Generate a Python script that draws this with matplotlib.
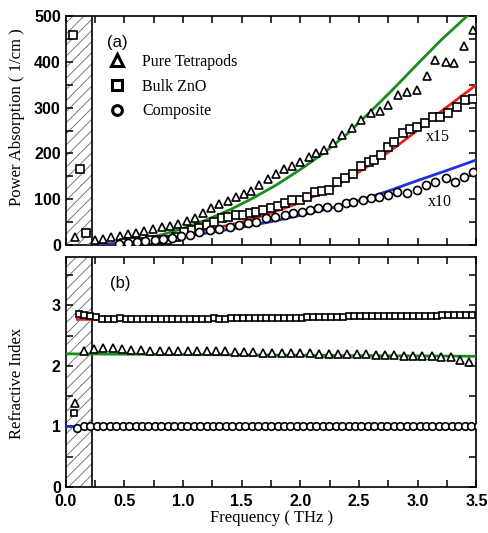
import numpy as np
import matplotlib
matplotlib.use("Agg")
import matplotlib.pyplot as plt
from matplotlib.lines import Line2D
from matplotlib.ticker import MultipleLocator

# ---------------- data: panel (a) power absorption ----------------
tet_f = [0.08, 0.25, 0.32, 0.39, 0.46, 0.53, 0.60, 0.67, 0.74, 0.82, 0.89, 0.96, 1.03,
         1.10, 1.17, 1.24, 1.31, 1.38, 1.45, 1.52, 1.58, 1.65, 1.72, 1.79, 1.86, 1.93,
         2.00, 2.07, 2.13, 2.20, 2.28, 2.35, 2.44, 2.52, 2.60, 2.68, 2.75, 2.83, 2.91,
         2.99, 3.08, 3.15, 3.24, 3.31, 3.39, 3.47]
tet_a = [17, 12, 14, 17, 20, 23, 27, 31, 34, 39, 41, 46, 52,
         60, 70, 80, 89, 97, 105, 112, 118, 130, 144, 155, 165, 172,
         182, 193, 200, 208, 222, 240, 255, 274, 289, 293, 306, 327, 335,
         338, 369, 404, 400, 397, 434, 469]

bulk_f = [0.06, 0.12, 0.17, 0.50, 0.56, 0.64, 0.72, 0.79, 0.86, 0.94, 1.01, 1.08, 1.14,
          1.20, 1.26, 1.33, 1.38, 1.45, 1.51, 1.57, 1.62, 1.68, 1.75, 1.81, 1.87, 1.93,
          2.00, 2.06, 2.12, 2.18, 2.24, 2.31, 2.38, 2.45, 2.52, 2.58, 2.63, 2.69, 2.75,
          2.80, 2.87, 2.93, 2.99, 3.06, 3.13, 3.19, 3.26, 3.33, 3.40, 3.47]
bulk_a = [458, 165, 26, 5, 7, 7, 11, 11, 12, 18, 29, 33, 38,
          44, 51, 58, 62, 65, 65, 69, 73, 76, 80, 85, 91, 98,
          98, 105, 116, 118, 120, 138, 146, 155, 172, 182, 186, 197, 215,
          226, 244, 253, 258, 266, 280, 280, 288, 302, 317, 318]

comp_f = [0.45, 0.53, 0.61, 0.68, 0.76, 0.83, 0.91, 0.98, 1.06, 1.14, 1.23, 1.31, 1.40,
          1.48, 1.55, 1.62, 1.71, 1.78, 1.87, 1.94, 2.01, 2.08, 2.15, 2.23, 2.32, 2.39,
          2.45, 2.53, 2.60, 2.67, 2.75, 2.82, 2.91, 2.99, 3.07, 3.15, 3.24, 3.32, 3.39, 3.47]
comp_a = [3, 5, 7, 9, 11, 14, 16, 19, 22, 29, 33, 36, 40,
          44, 47, 51, 58, 62, 65, 69, 73, 76, 80, 84, 84, 91,
          95, 98, 102, 105, 109, 116, 114, 120, 131, 138, 146, 138, 149, 160]

# fitted curves (a)
fit_tet_f = [0.20, 0.40, 0.60, 0.80, 1.00, 1.20, 1.40, 1.60, 1.80, 2.00, 2.20, 2.40, 2.60, 2.80, 3.00, 3.20, 3.42]
fit_tet_a = [0, 3, 10, 21, 36, 55, 77, 103, 132, 165, 201, 243, 292, 343, 396, 448, 500]
fit_bulk_f = [0.35, 0.50, 0.75, 1.00, 1.25, 1.50, 1.75, 2.00, 2.20, 2.40, 2.60, 2.80, 3.00, 3.20, 3.50]
fit_bulk_a = [2, 5, 12, 22, 35, 50, 70, 93, 116, 144, 176, 212, 251, 292, 350]
fit_comp_f = [0.30, 0.50, 0.75, 1.00, 1.25, 1.50, 1.75, 2.00, 2.25, 2.50, 2.75, 3.00, 3.25, 3.50]
fit_comp_a = [0, 4, 10, 18, 28, 39, 51, 65, 80, 97, 118, 141, 163, 186]

# ---------------- data: panel (b) refractive index ----------------
tet_n_extra_f = [0.08]
tet_n_extra = [1.38]
bulk_n_extra_f = [0.07]
bulk_n_extra = [1.22]

tet_n_start, tet_n_step = 0.16, 0.08
tet_n = [2.24, 2.28, 2.30, 2.29, 2.28, 2.27, 2.26, 2.25, 2.25, 2.25, 2.25, 2.25, 2.24, 2.24,
         2.24, 2.24, 2.23, 2.23, 2.23, 2.22, 2.22, 2.21, 2.21, 2.21, 2.21, 2.20, 2.20, 2.20,
         2.19, 2.19, 2.19, 2.18, 2.18, 2.18, 2.17, 2.17, 2.16, 2.16, 2.15, 2.14, 2.10, 2.07]

bulk_n_start, bulk_n_step = 0.11, 0.05
bulk_n = [2.86, 2.84, 2.83, 2.81, 2.78, 2.77, 2.77, 2.79, 2.78, 2.78, 2.78, 2.78, 2.78, 2.78,
          2.78, 2.78, 2.78, 2.78, 2.78, 2.78, 2.78, 2.78, 2.78, 2.79, 2.78, 2.78, 2.79, 2.79,
          2.79, 2.79, 2.79, 2.79, 2.80, 2.80, 2.80, 2.80, 2.80, 2.80, 2.80, 2.81, 2.81, 2.81,
          2.81, 2.81, 2.81, 2.81, 2.82, 2.82, 2.82, 2.82, 2.82, 2.82, 2.82, 2.83, 2.83, 2.83,
          2.83, 2.83, 2.83, 2.83, 2.83, 2.83, 2.84, 2.84, 2.84, 2.84, 2.84, 2.84]

comp_n_start, comp_n_step = 0.10, 0.055
comp_n = [0.97, 1.00, 1.01, 1.01, 1.01, 1.01, 1.01, 1.01, 1.01, 1.01, 1.01, 1.01, 1.01, 1.01,
          1.01, 1.01, 1.01, 1.01, 1.01, 1.01, 1.01, 1.01, 1.01, 1.01, 1.01, 1.01, 1.01, 1.01,
          1.01, 1.01, 1.01, 1.01, 1.01, 1.01, 1.01, 1.01, 1.01, 1.01, 1.01, 1.01, 1.01, 1.01,
          1.01, 1.01, 1.01, 1.01, 1.01, 1.01, 1.01, 1.01, 1.01, 1.01, 1.01, 1.01, 1.01, 1.01,
          1.01, 1.01, 1.01, 1.01, 1.01, 1.01, 1.01]

fit_n_tet_f = [0.0, 3.5]
fit_n_tet = [2.20, 2.16]
fit_n_bulk_f = [0.10, 0.20, 0.40, 3.50]
fit_n_bulk = [2.77, 2.77, 2.77, 2.83]
fit_n_comp_f = [0.0, 3.5]
fit_n_comp = [1.00, 1.00]

hatch_edge = 0.22
labels = ["Pure Tetrapods", "Bulk ZnO", "Composite"]

GREEN = "#1c8c1c"
RED = "#e8231c"
BLUE = "#1f2fe0"

serif = "Liberation Serif"
sans = "Liberation Sans"

plt.rcParams["hatch.linewidth"] = 0.6

fig = plt.figure(figsize=(4.88, 5.33), dpi=100)
ax1 = fig.add_axes([0.1346, 0.5403, 0.8418, 0.4296])
ax2 = fig.add_axes([0.1346, 0.0863, 0.8418, 0.4315])

mk = dict(ls="none", mfc="white", mec="black", mew=1.2, zorder=4)

def style(ax):
    ax.set_xlim(0, 3.5)
    ax.xaxis.set_major_locator(MultipleLocator(0.5))
    ax.xaxis.set_minor_locator(MultipleLocator(0.25))
    ax.tick_params(which="both", direction="in", top=True, right=True,
                   length=5, width=1.1, labelsize=11.5)
    ax.tick_params(axis="x", pad=5)
    for s in ax.spines.values():
        s.set_linewidth(1.2)
    for lab in ax.get_xticklabels() + ax.get_yticklabels():
        lab.set_fontfamily(sans)
        lab.set_fontweight("bold")
    ax.axvspan(0, hatch_edge, facecolor="none", edgecolor="#666666",
               hatch="///", linewidth=0, zorder=1)
    ax.axvline(hatch_edge, color="black", lw=1.2, zorder=2)

# ---- panel (a)
ax1.plot(fit_tet_f, fit_tet_a, color=GREEN, lw=2.0, zorder=3)
ax1.plot(fit_bulk_f, fit_bulk_a, color=RED, lw=2.0, zorder=3)
ax1.plot(fit_comp_f, fit_comp_a, color=BLUE, lw=2.0, zorder=3)
ax1.plot(tet_f, tet_a, marker="^", ms=6, **mk)
ax1.plot(bulk_f, bulk_a, marker="s", ms=5.2, **mk)
ax1.plot(comp_f, comp_a, marker="o", ms=5.8, **mk)
ax1.set_ylim(0, 500)
ax1.yaxis.set_major_locator(MultipleLocator(100))
ax1.yaxis.set_minor_locator(MultipleLocator(50))
style(ax1)
ax1.tick_params(labelbottom=False)
ax1.set_ylabel("Power Absorption ( 1/cm )", fontfamily=serif, fontsize=12)
ax1.yaxis.set_label_coords(-0.10, 0.56)
ax1.text(0.10, 0.885, "(a)", transform=ax1.transAxes, fontfamily=sans, fontsize=12,
         va="center", ha="left")
ax1.text(0.905, 0.47, "x15", transform=ax1.transAxes, fontfamily=serif, fontsize=11.5,
         va="center", ha="center")
ax1.text(0.912, 0.19, "x10", transform=ax1.transAxes, fontfamily=serif, fontsize=11.5,
         va="center", ha="center")

handles = [Line2D([], [], marker="^", ms=8, ls="none", mfc="white", mec="black", mew=2.2),
           Line2D([], [], marker="s", ms=6.5, ls="none", mfc="white", mec="black", mew=2.2),
           Line2D([], [], marker="o", ms=7, ls="none", mfc="white", mec="black", mew=2.2)]
leg = ax1.legend(handles, labels, loc="upper left", bbox_to_anchor=(0.105, 0.835),
                 frameon=False, borderpad=0, borderaxespad=0, handlelength=1.0,
                 handletextpad=1.1, labelspacing=0.55,
                 prop={"family": serif, "size": 11.5})

# ---- panel (b)
ax2.plot(fit_n_tet_f, fit_n_tet, color=GREEN, lw=2.0, zorder=3)
ax2.plot(fit_n_bulk_f, fit_n_bulk, color=RED, lw=2.0, zorder=3)
ax2.plot(fit_n_comp_f, fit_n_comp, color=BLUE, lw=2.0, zorder=3)
tet_nf = tet_n_start + tet_n_step * np.arange(len(tet_n))
bulk_nf = bulk_n_start + bulk_n_step * np.arange(len(bulk_n))
comp_nf = comp_n_start + comp_n_step * np.arange(len(comp_n))
ax2.plot(tet_nf, tet_n, marker="^", ms=5.8, **mk)
ax2.plot(bulk_nf, bulk_n, marker="s", ms=4.6, **mk)
ax2.plot(comp_nf, comp_n, marker="o", ms=5.4, **mk)
ax2.plot(tet_n_extra_f, tet_n_extra, marker="^", ms=5.8, **mk)
ax2.plot(bulk_n_extra_f, bulk_n_extra, marker="s", ms=4.6, **mk)
ax2.set_ylim(0, 3.8)
ax2.yaxis.set_major_locator(MultipleLocator(1))
ax2.yaxis.set_minor_locator(MultipleLocator(0.5))
style(ax2)
ax2.set_xticks([0, 0.5, 1.0, 1.5, 2.0, 2.5, 3.0, 3.5])
ax2.set_xticklabels(["0.0", "0.5", "1.0", "1.5", "2.0", "2.5", "3.0", "3.5"],
                    fontfamily=sans, fontweight="bold")
ax2.set_ylabel("Refractive Index", fontfamily=serif, fontsize=12)
ax2.yaxis.set_label_coords(-0.10, 0.45)
ax2.set_xlabel("Frequency ( THz )", fontfamily=serif, fontsize=12, labelpad=1)
ax2.text(0.107, 0.885, "(b)", transform=ax2.transAxes, fontfamily=sans, fontsize=12,
         va="center", ha="left")

fig.savefig("out.png", dpi=100)
